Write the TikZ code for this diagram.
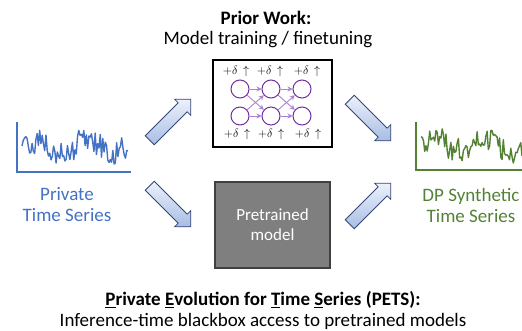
\documentclass[tikz,border=0pt]{standalone}
\usepackage{fontspec}
\setmainfont{Carlito}
\usetikzlibrary{positioning,arrows.meta,shapes.arrows,calc}
\definecolor{seriesblue}{RGB}{68,114,196}
\definecolor{seriesgreen}{RGB}{84,130,53}
\definecolor{netpurple}{RGB}{112,48,160}
\definecolor{edgepurple}{RGB}{170,130,205}
\definecolor{boxgray}{RGB}{127,127,127}
\definecolor{arrowedge}{RGB}{52,72,118}
\definecolor{arrowlight}{RGB}{236,241,250}
\definecolor{arrowdark}{RGB}{168,189,228}

\begin{document}
\begin{tikzpicture}[x=1pt, y=-1pt, >=Stealth,
  neuron/.style={circle, draw=netpurple, line width=1pt, minimum size=18pt, inner sep=0pt},
  wire/.style={-{Stealth[length=5pt,width=5pt]}, edgepurple, line width=0.9pt},
  delta/.style={font=\fontsize{13}{15}\selectfont, inner sep=0pt},
  fatarrow/.style={single arrow, draw=arrowedge, line width=0.8pt,
    top color=arrowlight, bottom color=arrowdark, minimum height=58pt,
    inner xsep=0pt, inner ysep=6pt, single arrow head extend=5pt},
  caption/.style={font=\fontsize{19}{21}\selectfont, align=center}]

\useasboundingbox (0,0) rectangle (522,331);

% headings
\node[caption, font=\fontsize{19}{21}\selectfont\bfseries] (prior) at (266, 18) {Prior Work:};
\node[caption] (priorsub) at (268, 40) {Model training / finetuning};

\node[caption, font=\fontsize{19}{21}\selectfont\bfseries] (pets) at (263, 300)
  {\underline{P}rivate \underline{E}volution for \underline{T}ime \underline{S}eries (PETS):};
\node[caption] (petssub) at (263, 321) {Inference-time blackbox access to pretrained models};

% private series
\draw[seriesblue, line width=2pt] (17, 122) -- (17, 172) -- (131, 172);
\pgfmathsetseed{11}
\draw[seriesblue, line width=1.4pt, line join=round]
  plot[domain=22:128, samples=85] (\x, {148 - 7*sin(7*(\x-22)) - 3*sin(19*\x) + 12*rand});
\node[caption, text=seriesblue] (priv) at (67, 205) {Private\\Time Series};

% synthetic series
\draw[seriesgreen, line width=2pt] (416, 122) -- (416, 170) -- (522, 170);
\pgfmathsetseed{23}
\draw[seriesgreen, line width=1.4pt, line join=round]
  plot[domain=421:522, samples=82] (\x, {146 - 7*sin(7*(\x-421)) - 3*sin(19*\x) + 12*rand});
\node[caption, text=seriesgreen] (syn) at (471, 205) {DP Synthetic\\Time Series};

% network being trained
\node[draw, line width=1.3pt, minimum width=119pt, minimum height=87pt] (netbox) at (272.5, 103.5) {};
\foreach \c/\xx/\lx in {1/240/236, 2/271/270, 3/302/307} {
  \node[neuron] (n\c1) at (\xx, 89) {};
  \node[neuron] (n\c2) at (\xx, 116) {};
  \node[delta] (up\c) at (\lx, 72) {$+\delta\,\uparrow$};
  \node[delta] (dn\c) at (\lx+1, 135) {$+\delta\,\uparrow$};
}
\foreach \a/\b in {1/2, 2/3} {
  \draw[wire] (n\a1) -- (n\b1);
  \draw[wire] (n\a2) -- (n\b2);
  \draw[wire] (n\a1) -- (n\b2);
  \draw[wire] (n\a2) -- (n\b1);
}

% pretrained model
\node[draw=black!75, line width=1.2pt, fill=boxgray, minimum width=115pt, minimum height=86pt,
  text=white, font=\fontsize{17}{20}\selectfont, align=center] (pretrained) at (272.5, 225) {Pretrained\\model};

% block arrows
\node[fatarrow, rotate=45] (toprior) at (168, 122) {};
\node[fatarrow, rotate=-45] (topre) at (168, 204) {};
\node[fatarrow, rotate=-45] (fromprior) at (368, 118) {};
\node[fatarrow, rotate=45] (frompre) at (368, 206) {};

\end{tikzpicture}
\end{document}
